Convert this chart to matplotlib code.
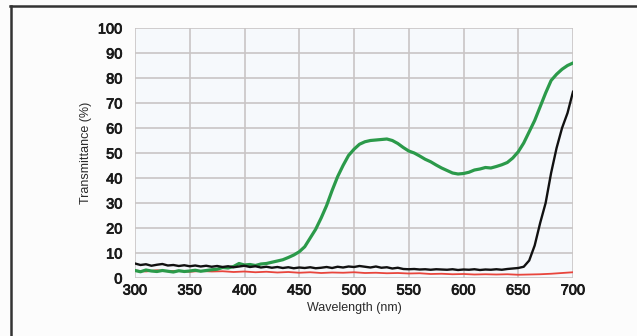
import numpy as np
import matplotlib.pyplot as plt
import matplotlib.patheffects as pe
from matplotlib.lines import Line2D

wl = np.arange(300, 701, 5)
wl_red = np.arange(300, 701, 10)

green = [3.0, 2.5, 3.2, 2.8, 2.6, 3.0, 2.7, 2.4, 2.9, 2.6,
         2.8, 3.1, 2.7, 3.0, 3.3, 3.5, 4.2, 4.0, 4.6, 5.8,
         5.2, 5.4, 5.0, 5.6, 5.8, 6.3, 6.8, 7.3, 8.2, 9.2,
         10.5, 12.5, 16.0, 19.5, 24.0, 29.0, 35.0, 40.5, 45.0, 49.0,
         51.5, 53.5, 54.5, 55.0, 55.2, 55.4, 55.6, 55.0, 53.8, 52.2,
         50.8, 50.0, 48.8, 47.5, 46.5, 45.2, 44.0, 43.0, 42.0, 41.6,
         41.8, 42.3, 43.2, 43.6, 44.2, 44.0, 44.6, 45.3, 46.2, 48.0,
         50.5, 54.0, 58.5, 63.0, 68.5, 74.0, 79.0, 81.5, 83.5, 85.0,
         86.0]

black = [5.8, 5.2, 5.5, 4.9, 5.3, 5.6, 5.0, 5.2, 4.8, 5.1,
         4.7, 5.0, 4.6, 4.9, 4.5, 4.8, 4.4, 4.7, 4.3, 4.6,
         4.9, 4.4, 4.7, 4.2, 4.5, 4.1, 4.4, 4.0, 4.3, 3.9,
         4.2, 4.0, 4.3, 3.9, 4.1, 4.4, 4.0, 4.5, 4.2, 4.6,
         4.4, 4.8, 4.5, 4.2, 4.6, 4.1, 4.3, 3.8, 4.1, 3.6,
         3.5, 3.6, 3.4, 3.5, 3.3, 3.5, 3.4, 3.3, 3.5, 3.2,
         3.4, 3.3, 3.5, 3.2, 3.4, 3.3, 3.5, 3.3, 3.6, 3.8,
         4.0, 4.5, 7.0, 13.0, 22.0, 30.0, 42.0, 52.0, 60.0, 66.0,
         74.5]

red = [3.0, 2.6, 3.1, 2.7, 2.9, 2.5, 2.8, 2.6, 2.7, 2.4,
       2.6, 2.3, 2.5, 2.2, 2.4, 2.1, 2.3, 2.0, 2.2, 2.1,
       2.3, 2.0, 2.1, 1.9, 2.0, 1.8, 1.9, 1.6, 1.7, 1.5,
       1.6, 1.4, 1.5, 1.4, 1.5, 1.3, 1.4, 1.5, 1.7, 2.0,
       2.3]

plt.rcParams['font.family'] = ['Liberation Sans', 'DejaVu Sans']

fig = plt.figure(figsize=(6.37, 3.36), dpi=100, facecolor='#fcfcfc')
ax = fig.add_axes([135/637, 1-278/336, 438/637, 250/336])
ax.set_facecolor('#f6f9fc')

ax.plot(wl_red, red, color='#e8453c', lw=1.3, zorder=3)
ax.plot(wl, green, color='#2b9a4a', lw=2.3, zorder=4)
ax.plot(wl, black, color='#111111', lw=1.7, zorder=5)

ax.set_xlim(300, 700)
ax.set_ylim(0, 100)
ax.set_xticks(np.arange(300, 701, 50))
ax.set_yticks(np.arange(0, 101, 10))
ax.grid(True, color='#c9c5c5', lw=1.2)
ax.set_axisbelow(True)
for s in ax.spines.values():
    s.set_visible(False)
ax.tick_params(length=0, labelsize=10.5, labelcolor='#1a1a1a')
ax.tick_params(axis='y', pad=9)
ax.tick_params(axis='x', pad=4)
for lbl in ax.get_xticklabels() + ax.get_yticklabels():
    lbl.set_path_effects([pe.withStroke(linewidth=0.6, foreground='#1a1a1a')])

ax.set_xlabel('Wavelength (nm)', fontsize=9, color='#2a2a2a', labelpad=3)
ax.set_ylabel('Transmittance (%)', fontsize=9, color='#2a2a2a', labelpad=4)

# frame lines at the top and left of the picture
fig.add_artist(Line2D([10.5/637, 10.5/637], [0, 1-6/336], color='#333333', lw=1.8,
                      transform=fig.transFigure))
fig.add_artist(Line2D([10/637, 1], [1-6/336, 1-6/336], color='#333333', lw=1.8,
                      transform=fig.transFigure))

fig.savefig('out.png', dpi=100, facecolor=fig.get_facecolor())
